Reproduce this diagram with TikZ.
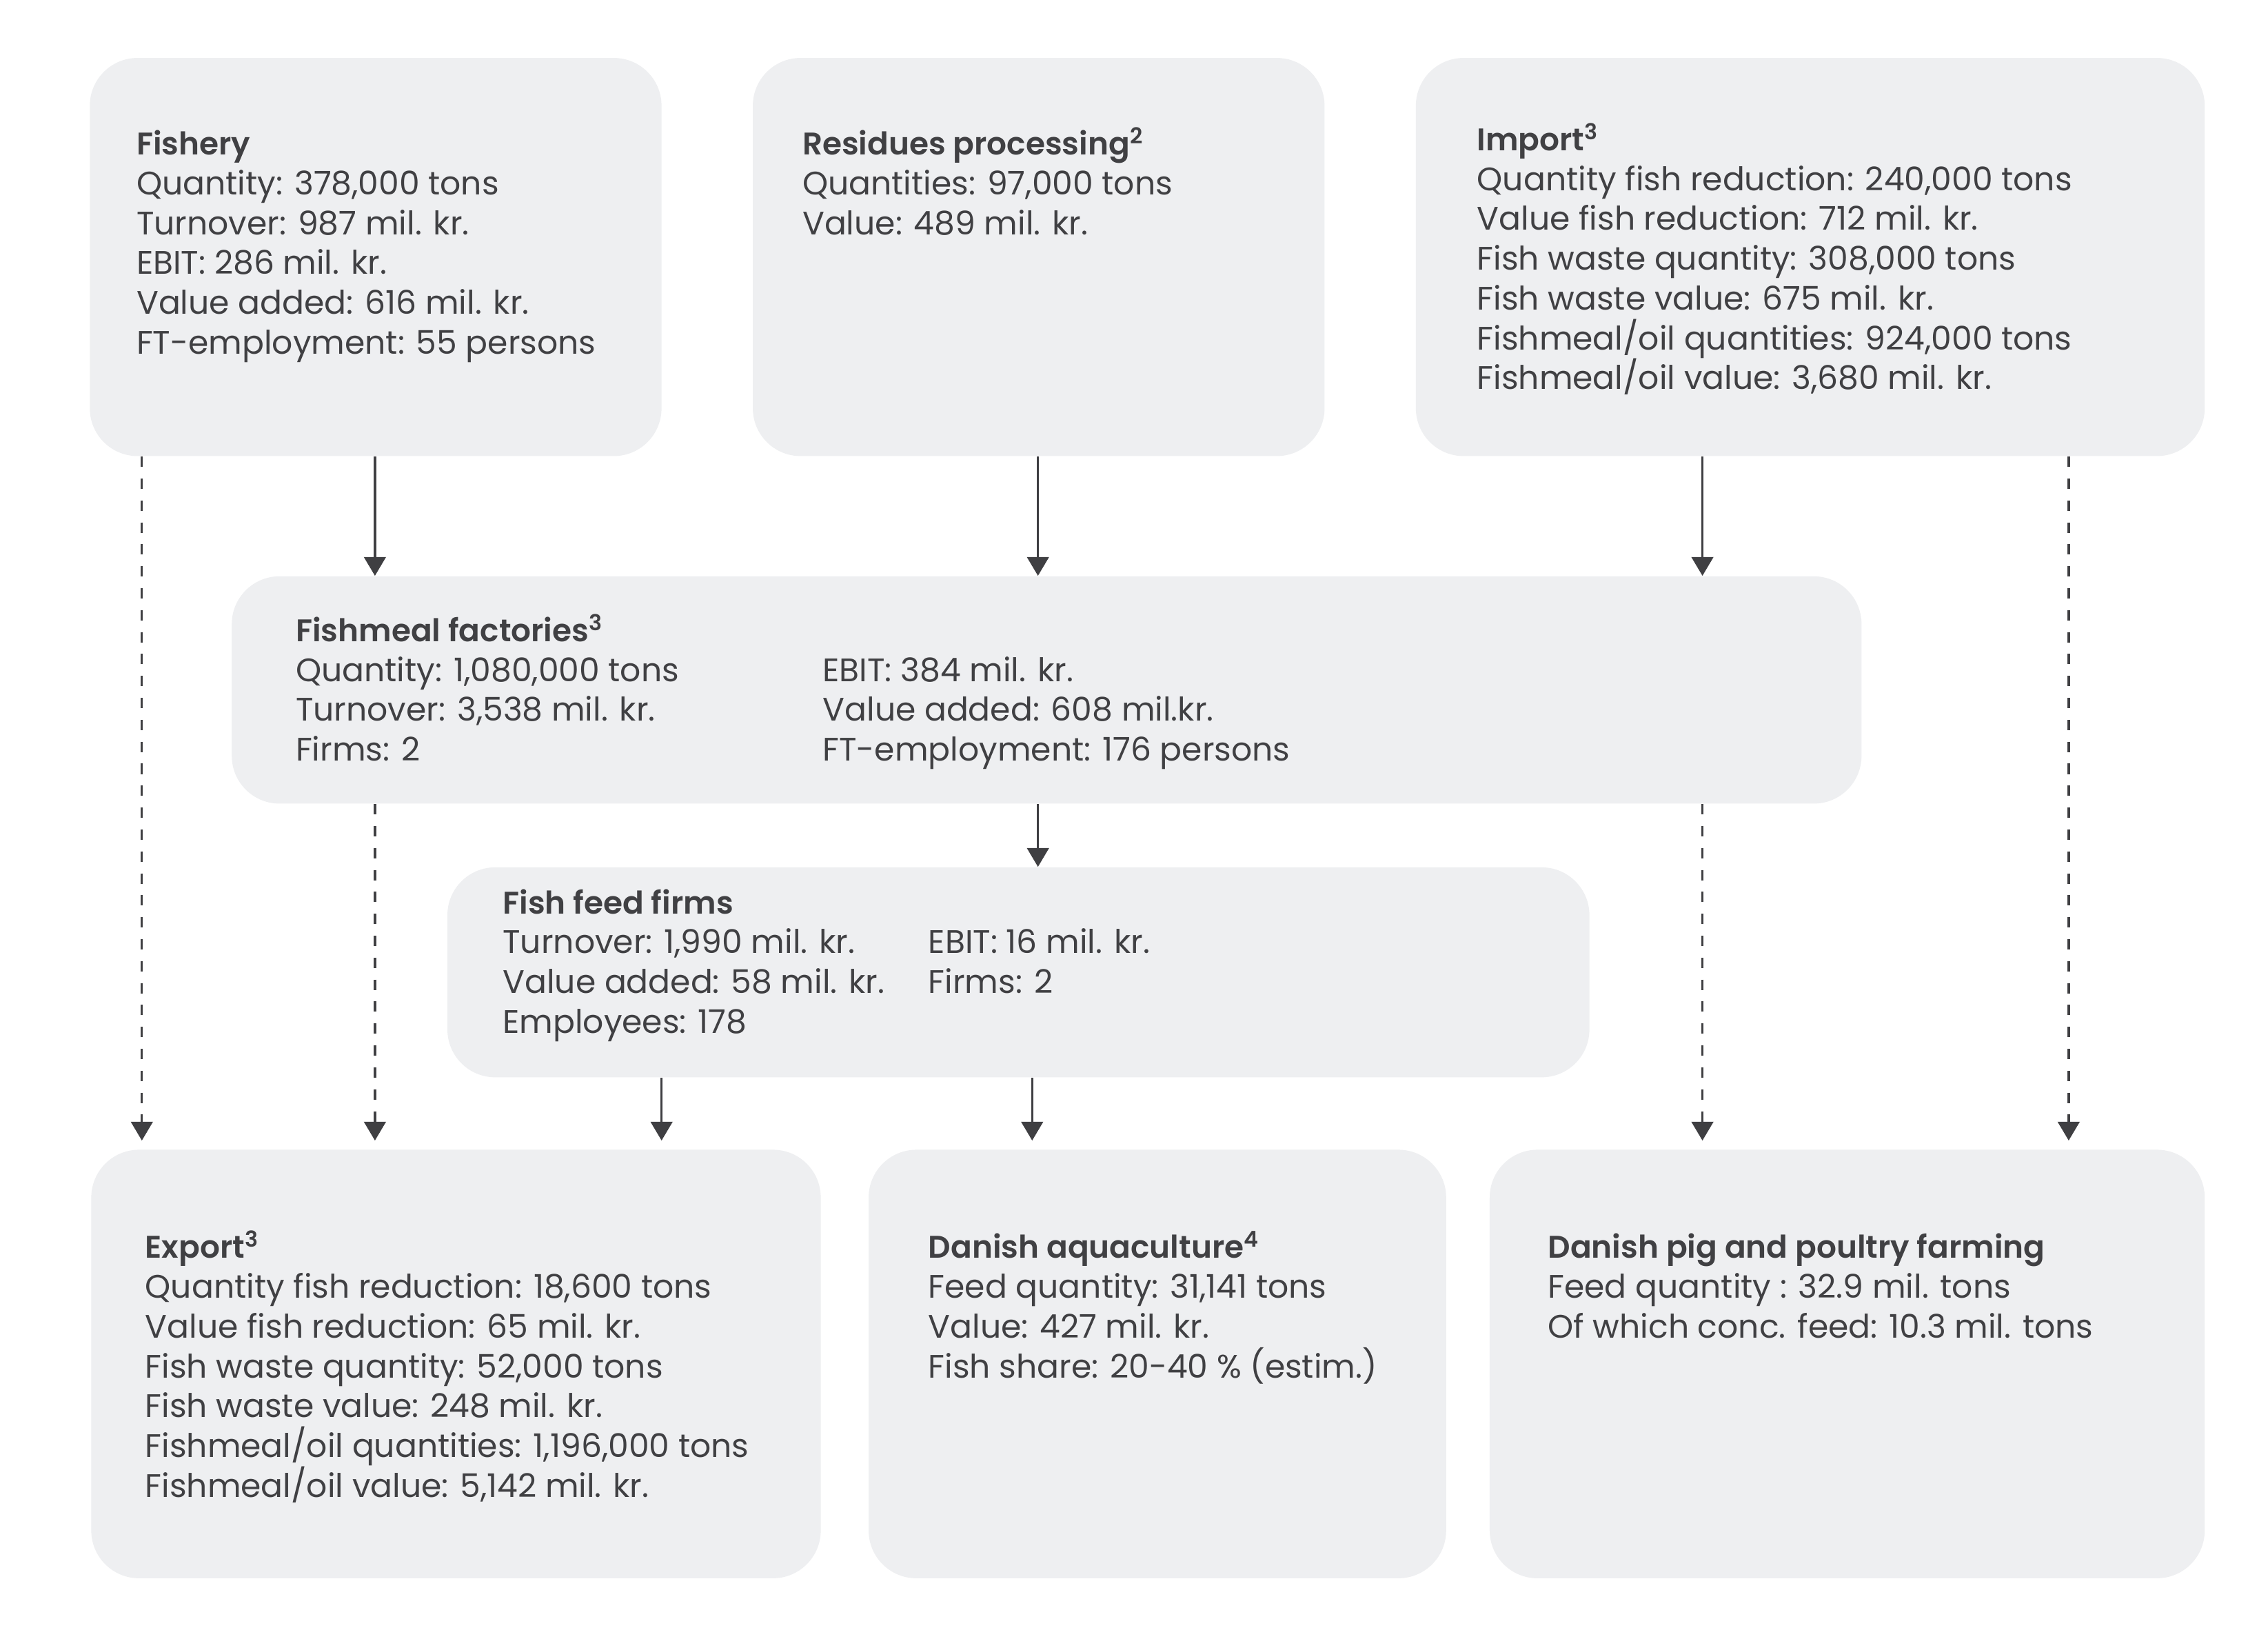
\documentclass[tikz,border=0pt]{standalone}
\usepackage{fontspec}
\setmainfont{Poppins}[BoldFont={Poppins SemiBold}]
\usetikzlibrary{arrows.meta}
\definecolor{txt}{HTML}{404043}
\definecolor{boxfill}{HTML}{EEEFF1}
\definecolor{arrc}{HTML}{3F3F42}
\newlength\lnsep
\setlength\lnsep{15.65pt}
\newcommand\boxlines[1]{\vtop{\baselineskip=\lnsep\lineskiplimit=-50pt\lineskip=0pt #1}}
\newcommand\myline[1]{\hbox{\strut #1}}
\newcommand\hd[1]{\hbox{\fontsize{12.3}{15.65}\selectfont\bfseries #1}}
\newcommand\sps[1]{\textsuperscript{#1}}
\begin{document}
\begin{tikzpicture}[x=0.02cm,y=-0.02cm,
  box/.style={draw=none,fill=boxfill,rounded corners=0.66cm,inner sep=0pt},
  txtnode/.style={anchor=base west,inner sep=0pt,text=txt,font=\fontsize{12.8}{15.65}\selectfont},
  arr/.style={draw=arrc,line width=0.9pt,-{Triangle[length=0.26cm,width=0.30cm]}},
  darr/.style={arr,dash pattern=on 0.143cm off 0.16cm}]
\useasboundingbox[fill=white] (0,0) rectangle (1566.7,1131.9);
% boxes
\node[box,minimum width=7.9cm,minimum height=5.5cm] (fishery) at (259.5,177.5) {};
\node[box,minimum width=7.9cm,minimum height=5.5cm] (residues) at (717.5,177.5) {};
\node[box,minimum width=10.9cm,minimum height=5.5cm] (import) at (1250.5,177.5) {};
\node[box,minimum width=22.52cm,minimum height=3.14cm] (fishmeal) at (723,476.5) {};
\node[box,minimum width=15.78cm,minimum height=2.9cm] (fishfeed) at (703.5,671.5) {};
\node[box,minimum width=10.08cm,minimum height=5.92cm] (export) at (315,942) {};
\node[box,minimum width=7.98cm,minimum height=5.92cm] (aqua) at (799.5,942) {};
\node[box,minimum width=9.88cm,minimum height=5.92cm] (pig) at (1276,942) {};
% texts
\node[txtnode] (fisheryT) at (94,107) {\boxlines{\hd{Fishery}
  \myline{Quantity: 378,000 tons}
  \myline{Turnover: 987 mil. kr.}
  \myline{EBIT: 286 mil. kr.}
  \myline{Value added: 616 mil. kr.}
  \myline{FT-employment: 55 persons}}};
\node[txtnode] (residuesT) at (554,107) {\boxlines{\hd{Residues processing\sps{2}}
  \myline{Quantities: 97,000 tons}
  \myline{Value: 489 mil. kr.}}};
\node[txtnode] (importT) at (1020,104) {\boxlines{\hd{Import\sps{3}}
  \myline{Quantity fish reduction: 240,000 tons}
  \myline{Value fish reduction: 712 mil. kr.}
  \myline{Fish waste quantity: 308,000 tons}
  \myline{Fish waste value: 675 mil. kr.}
  \myline{Fishmeal/oil quantities: 924,000 tons}
  \myline{Fishmeal/oil value: 3,680 mil. kr.}}};
\node[txtnode] (fishmealT) at (204,443) {\boxlines{\hd{Fishmeal factories\sps{3}}
  \myline{Quantity: 1,080,000 tons}
  \myline{Turnover: 3,538 mil. kr.}
  \myline{Firms: 2}}};
\node[txtnode] (fishmealT2) at (568,470.5) {\boxlines{\myline{EBIT: 384 mil. kr.}
  \myline{Value added: 608 mil.kr.}
  \myline{FT-employment: 176 persons}}};
\node[txtnode] (fishfeedT) at (347,631) {\boxlines{\hd{Fish feed firms}
  \myline{Turnover: 1,990 mil. kr.}
  \myline{Value added: 58 mil. kr.}
  \myline{Employees: 178}}};
\node[txtnode] (fishfeedT2) at (641,658.5) {\boxlines{\myline{EBIT: 16 mil. kr.}
  \myline{Firms: 2}}};
\node[txtnode] (exportT) at (100,869) {\boxlines{\hd{Export\sps{3}}
  \myline{Quantity fish reduction: 18,600 tons}
  \myline{Value fish reduction: 65 mil. kr.}
  \myline{Fish waste quantity: 52,000 tons}
  \myline{Fish waste value: 248 mil. kr.}
  \myline{Fishmeal/oil quantities: 1,196,000 tons}
  \myline{Fishmeal/oil value: 5,142 mil. kr.}}};
\node[txtnode] (aquaT) at (641,869) {\boxlines{\hd{Danish aquaculture\sps{4}}
  \myline{Feed quantity: 31,141 tons}
  \myline{Value: 427 mil. kr.}
  \myline{Fish share: 20-40 \% (estim.)}}};
\node[txtnode] (pigT) at (1069,869) {\boxlines{\hd{Danish pig and poultry farming}
  \myline{Feed quantity : 32.9 mil. tons}
  \myline{Of which conc. feed: 10.3 mil. tons}}};
% connectors
\draw[darr] (fishery.south -| 98,0) -- ([yshift=0.12cm]export.north -| 98,0);
\draw[arr] (fishery.south -| 259,0) -- (fishmeal.north -| 259,0);
\draw[arr] (residues.south -| 717,0) -- (fishmeal.north -| 717,0);
\draw[arr] (import.south -| 1176,0) -- (fishmeal.north -| 1176,0);
\draw[darr] (import.south -| 1429,0) -- ([yshift=0.12cm]pig.north -| 1429,0);
\draw[darr] (fishmeal.south -| 259,0) -- ([yshift=0.12cm]export.north -| 259,0);
\draw[arr] (fishmeal.south -| 717,0) -- (fishfeed.north -| 717,0);
\draw[darr] (fishmeal.south -| 1176,0) -- ([yshift=0.12cm]pig.north -| 1176,0);
\draw[arr] (fishfeed.south -| 457,0) -- ([yshift=0.12cm]export.north -| 457,0);
\draw[arr] (fishfeed.south -| 713,0) -- ([yshift=0.12cm]aqua.north -| 713,0);
\end{tikzpicture}
\end{document}
